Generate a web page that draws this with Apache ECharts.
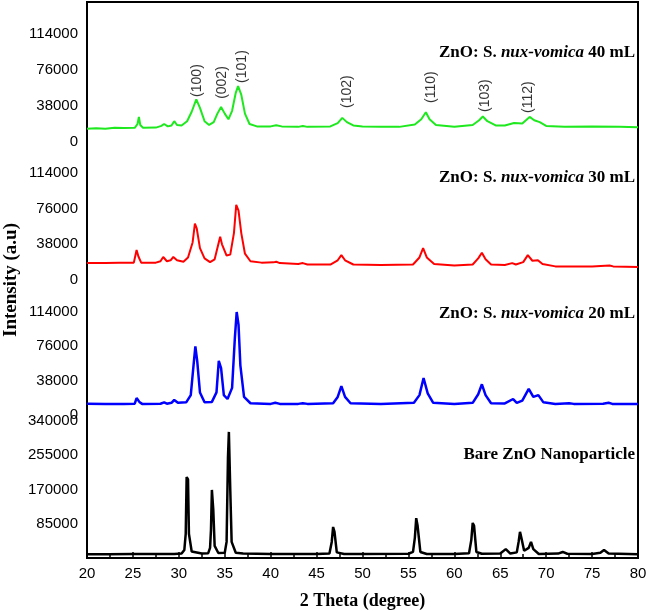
<!DOCTYPE html>
<html>
<head>
<meta charset="utf-8">
<style>
  html, body { margin: 0; padding: 0; background: #fff; }
  #main { width: 648px; height: 611px; }
</style>
<script src="https://cdn.jsdelivr.net/npm/echarts@6/dist/echarts.min.js"></script>
</head>
<body>
<div id="main"></div>
<script>
// XRD patterns, [2theta, intensity]
var nux40 = [[20,14000],[21,14500],[22,14000],[23,15000],[24,14800],[25.2,15000],[25.5,19000],[25.65,26500],[25.8,18000],[26.1,15000],[27.5,15200],[28.1,17000],[28.4,19000],[28.8,16500],[29.2,17500],[29.5,22000],[29.8,18000],[30.3,17500],[30.9,22000],[31.4,32000],[31.9,45000],[32.3,36000],[32.8,22000],[33.3,18000],[33.8,21000],[34.2,30000],[34.6,37000],[35.0,30000],[35.4,24000],[35.8,33000],[36.2,52000],[36.45,59000],[36.8,50000],[37.2,30000],[37.7,19000],[38.5,16500],[40,16500],[40.6,17800],[41.2,16500],[43,16000],[43.5,17000],[44,16000],[46.5,16500],[47.3,20000],[47.8,25500],[48.3,21000],[49,17500],[50,16500],[52,16000],[54,16000],[55.7,18500],[56.4,24000],[56.9,31500],[57.3,24000],[58,18000],[60,16000],[62,18000],[62.7,23000],[63.1,27000],[63.6,22000],[64.5,17500],[65.5,17500],[66.5,20000],[67.4,19500],[68.2,26500],[68.7,23000],[69.3,21000],[70,17000],[72,16000],[75,16500],[78,16000],[80,15500]];

var nux30 = [[20,18000],[22,18200],[23.5,18500],[25.1,18500],[25.4,32000],[25.6,25000],[25.9,18500],[27.5,18500],[28,20000],[28.3,24500],[28.7,20000],[29.1,21000],[29.4,24500],[29.8,21000],[30.5,19500],[31.0,24000],[31.5,40000],[31.75,60000],[31.95,55000],[32.3,34000],[32.8,23000],[33.4,19000],[33.9,22000],[34.3,38000],[34.5,46000],[34.7,38000],[35.2,26000],[35.6,27000],[36.0,50000],[36.25,80000],[36.5,74000],[36.8,50000],[37.2,28000],[37.8,20000],[39,18500],[40.3,18800],[40.6,19500],[41,18000],[43,17000],[43.5,18000],[44,16500],[46.5,16500],[47.3,21000],[47.7,26500],[48.1,21000],[49,16500],[52,16000],[55.5,16500],[56.2,24000],[56.6,34000],[57,24000],[57.8,17000],[60,15500],[62,16500],[62.6,23000],[63,29000],[63.4,22000],[64,16500],[65.5,16000],[66.3,18000],[66.7,16500],[67.5,19000],[68,26500],[68.5,20500],[69.1,21000],[69.6,17000],[71,14500],[75,14500],[76.9,15500],[77.3,14500],[80,13800]];

var nux20 = [[20,12500],[22,12300],[24,12300],[25.2,12500],[25.4,18800],[25.7,14500],[26,12300],[28,12500],[28.4,14000],[28.7,12500],[29.2,13500],[29.5,16600],[29.9,13500],[30.8,14000],[31.3,22000],[31.6,55000],[31.8,76000],[32.0,60000],[32.3,25000],[32.8,14000],[33.6,14500],[34.1,25000],[34.35,60000],[34.6,52000],[34.9,22000],[35.3,17700],[35.8,30000],[36.1,85000],[36.3,114000],[36.5,100000],[36.7,55000],[37.1,20000],[37.8,13000],[40,12300],[40.5,13500],[41,12300],[43,12300],[43.5,13000],[44,12300],[46.8,13000],[47.3,20000],[47.7,32000],[48.1,20000],[48.7,13000],[52,12300],[55.6,13500],[56.2,22000],[56.65,41000],[57.1,24000],[57.7,13500],[60,12300],[62,13500],[62.6,23000],[63,34000],[63.4,22000],[64,13000],[65.5,12800],[66.4,17700],[66.8,13500],[67.4,16000],[68.1,29000],[68.6,20000],[69.15,22000],[69.7,14000],[71,12300],[72.5,13000],[73,12300],[76.2,12500],[76.8,13500],[77.2,12300],[80,12200]];

var bare = [[20,9000],[22.3,9500],[25,10000],[29.5,10000],[30.3,11000],[30.6,20000],[30.75,60000],[30.85,201000],[31.0,195000],[31.1,60000],[31.4,16000],[32.5,11000],[33.2,12000],[33.4,25000],[33.5,70000],[33.6,169000],[33.75,120000],[33.9,30000],[34.3,12500],[35.0,13000],[35.2,40000],[35.35,250000],[35.45,313000],[35.6,170000],[35.75,40000],[36.2,13000],[37,11000],[40,10000],[45,10000],[46.4,11000],[46.65,40000],[46.8,77000],[46.95,65000],[47.2,14000],[48,10000],[50,10000],[55,10500],[55.5,15000],[55.7,50000],[55.85,99000],[56.0,80000],[56.3,15000],[57,10000],[60,10000],[61.6,12000],[61.85,45000],[62.0,87000],[62.15,80000],[62.4,15000],[63,10500],[65,11000],[65.6,22000],[66.1,11000],[66.8,14000],[67.0,40000],[67.15,65000],[67.3,50000],[67.6,18000],[68.1,25000],[68.35,40000],[68.6,22000],[69.2,10000],[71.3,11000],[71.8,15000],[72.3,10500],[75,10000],[75.9,13000],[76.3,20000],[76.8,11000],[80,9500]];

// hkl labels over the 40 mL pattern
var hklNames = ['(100)', '(002)', '(101)', '(102)', '(110)', '(103)', '(112)'];
var hklTheta = [32.0, 34.7, 36.85, 48.3, 57.5, 63.4, 68.0];
var hklBase = [47700, 45600, 62500, 36000, 41300, 31800, 30700];

var panelNames = ['40 mL', '30 mL', '20 mL'];

var serif = 'Liberation Serif';
var sans = 'Liberation Sans';

var panels = [
  { top: 2, height: 140, max: 148000, interval: 38000 },
  { top: 142, height: 138, max: 147000, interval: 38000 },
  { top: 280, height: 135, max: 149400, interval: 38000 },
  { top: 415, height: 143, max: 355000, interval: 85000 }
]

function yAx(i, p) {
  return {
    gridIndex: i,
    type: 'value',
    min: 0,
    max: p.max,
    interval: p.interval,
    axisLine: { show: true, lineStyle: { color: '#000', width: 2 } },
    axisTick: { show: false },
    splitLine: { show: false },
    axisLabel: {
      color: '#000',
      fontFamily: sans,
      fontSize: 15,
      margin: 9,
      showMaxLabel: false,
      showMinLabel: i !== 3,
      formatter: function (v) { return String(v) }
    }
  }
}

function xAx(i) {
  var last = i === 3
  return {
    gridIndex: i,
    type: 'value',
    min: 20,
    max: 80,
    interval: 5,
    show: last,
    name: last ? '2 Theta (degree)' : '',
    nameLocation: 'middle',
    nameGap: 34,
    nameTextStyle: { color: '#000', fontFamily: serif, fontWeight: 'bold', fontSize: 18 },
    axisLine: { show: true, lineStyle: { color: '#000', width: 2 } },
    axisTick: { show: true, inside: true, length: 6, lineStyle: { color: '#000', width: 1.5 } },
    minorTick: { show: true, splitNumber: 2, length: 4, lineStyle: { color: '#000', width: 1.5 } },
    splitLine: { show: false },
    axisLabel: { color: '#000', fontFamily: sans, fontSize: 15, margin: 8 }
  }
}

var grids = panels.map(function (p) {
  return { left: 87, right: 10, top: p.top, height: p.height, outerBoundsMode: 'none', containLabel: false }
})
// outer frame
grids.push({
  left: 87, right: 10, top: 2, bottom: 53,
  outerBoundsMode: 'none', containLabel: false,
  show: true, borderColor: '#000', borderWidth: 2, backgroundColor: 'transparent'
})

var xAxes = panels.map(function (p, i) { return xAx(i) })
xAxes.push({ gridIndex: 4, type: 'value', show: false })
var yAxes = panels.map(function (p, i) { return yAx(i, p) })
yAxes.push({
  gridIndex: 4,
  type: 'value',
  min: 0,
  max: 1,
  axisLine: { show: false },
  axisTick: { show: false },
  axisLabel: { show: false },
  splitLine: { show: false },
  name: 'Intensity (a.u)',
  nameLocation: 'middle',
  nameGap: 66,
  nameTextStyle: { color: '#000', fontFamily: serif, fontWeight: 'bold', fontSize: 19 }
})

function line(data, i, color, width) {
  return {
    type: 'line',
    xAxisIndex: i,
    yAxisIndex: i,
    data: data,
    showSymbol: false,
    symbol: 'none',
    lineStyle: { color: color, width: width },
    z: 3
  }
}

var richStyle = {
  b: { fontFamily: serif, fontWeight: 'bold', fontSize: 17, color: '#000' },
  i: { fontFamily: serif, fontWeight: 'bold', fontStyle: 'italic', fontSize: 17, color: '#000' }
}
var labelTops = [44, 169, 305, 446]
var titles = panelNames.map(function (n, k) {
  return {
    text: '{b|ZnO: S. }{i|nux-vomica}{b| ' + n + '}',
    right: 13,
    top: labelTops[k],
    padding: 0,
    textStyle: { rich: richStyle }
  }
})
titles.push({
  text: '{b|Bare ZnO Nanoparticle}',
  right: 13,
  top: labelTops[3],
  padding: 0,
  textStyle: { rich: richStyle }
})

var myChart = echarts.init(document.getElementById('main'))
myChart.setOption({
  animation: false,
  backgroundColor: '#fff',
  title: titles,
  grid: grids,
  xAxis: xAxes,
  yAxis: yAxes,
  series: [
    line(nux40, 0, '#1ee81e', 2),
    line(nux30, 1, '#ff0000', 2),
    line(nux20, 2, '#0000ff', 2.5),
    line(bare, 3, '#000000', 2.5),
    {
      type: 'scatter',
      xAxisIndex: 0,
      yAxisIndex: 0,
      symbolSize: 0,
      data: hklTheta.map(function (t, k) { return [t, hklBase[k], hklNames[k]] }),
      label: {
        show: true,
        position: 'inside',
        rotate: 90,
        align: 'left',
        verticalAlign: 'middle',
        fontFamily: sans,
        fontSize: 14,
        color: '#000',
        formatter: function (p) { return p.value[2] }
      },
      z: 4
    }
  ]
})
</script>
</body>
</html>
